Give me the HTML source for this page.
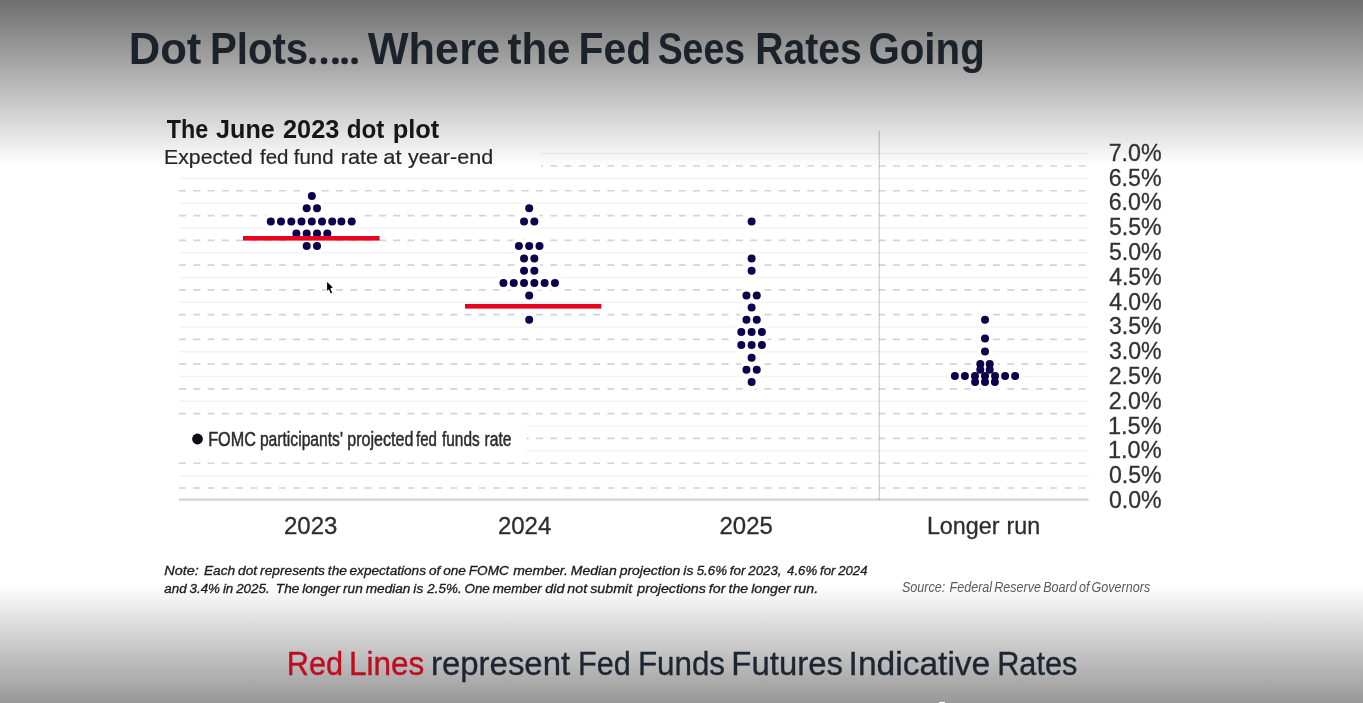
<!DOCTYPE html>
<html>
<head>
<meta charset="utf-8">
<title>Dot Plots</title>
<style>
html, body { margin: 0; padding: 0; }
body {
  width: 1363px; height: 703px; overflow: hidden; position: relative;
  font-family: "Liberation Sans", sans-serif;
  background: #fff;
}
#bg {
  position: absolute; left: 0; top: 0; width: 1363px; height: 703px;
  background:
    linear-gradient(to bottom, #6e6e6e 0px, #ffffff 166px) top / 100% 166px no-repeat,
    linear-gradient(to bottom, #ffffff 0px, #989898 118.5px) bottom / 100% 118.5px no-repeat,
    #fff;
}
svg { position: absolute; left: 0; top: 0; will-change: transform; }
svg text { font-family: "Liberation Sans", sans-serif; }
</style>
</head>
<body>
<div id="bg"></div>
<svg width="1363" height="703" viewBox="0 0 1363 703">
<defs>
<filter id="b1" x="0" y="0" width="100%" height="100%" filterUnits="userSpaceOnUse"><feGaussianBlur stdDeviation="0.6"/></filter>
<filter id="b2" x="0" y="0" width="100%" height="100%" filterUnits="userSpaceOnUse"><feGaussianBlur stdDeviation="0.3"/></filter>
</defs>
<g filter="url(#b1)">
<line x1="179" y1="475.63" x2="1088.5" y2="475.63" stroke="#202020" stroke-opacity="0.05" stroke-width="1.5"/>
<line x1="179" y1="450.86" x2="1088.5" y2="450.86" stroke="#202020" stroke-opacity="0.05" stroke-width="1.5"/>
<line x1="179" y1="426.09" x2="1088.5" y2="426.09" stroke="#202020" stroke-opacity="0.05" stroke-width="1.5"/>
<line x1="179" y1="401.32" x2="1088.5" y2="401.32" stroke="#202020" stroke-opacity="0.05" stroke-width="1.5"/>
<line x1="179" y1="376.55" x2="1088.5" y2="376.55" stroke="#202020" stroke-opacity="0.05" stroke-width="1.5"/>
<line x1="179" y1="351.78" x2="1088.5" y2="351.78" stroke="#202020" stroke-opacity="0.05" stroke-width="1.5"/>
<line x1="179" y1="327.01" x2="1088.5" y2="327.01" stroke="#202020" stroke-opacity="0.05" stroke-width="1.5"/>
<line x1="179" y1="302.24" x2="1088.5" y2="302.24" stroke="#202020" stroke-opacity="0.05" stroke-width="1.5"/>
<line x1="179" y1="277.47" x2="1088.5" y2="277.47" stroke="#202020" stroke-opacity="0.05" stroke-width="1.5"/>
<line x1="179" y1="252.70" x2="1088.5" y2="252.70" stroke="#202020" stroke-opacity="0.05" stroke-width="1.5"/>
<line x1="179" y1="227.93" x2="1088.5" y2="227.93" stroke="#202020" stroke-opacity="0.05" stroke-width="1.5"/>
<line x1="179" y1="203.16" x2="1088.5" y2="203.16" stroke="#202020" stroke-opacity="0.05" stroke-width="1.5"/>
<line x1="179" y1="178.39" x2="1088.5" y2="178.39" stroke="#202020" stroke-opacity="0.05" stroke-width="1.5"/>
<line x1="541" y1="153.62" x2="1088.5" y2="153.62" stroke="#202020" stroke-opacity="0.05" stroke-width="1.5"/>
<line x1="179" y1="488.01" x2="1088.5" y2="488.01" stroke="#d4d4d8" stroke-width="1.7" stroke-dasharray="6.9 7.38" stroke-dashoffset="0.0"/>
<line x1="179" y1="463.25" x2="1088.5" y2="463.25" stroke="#d4d4d8" stroke-width="1.7" stroke-dasharray="6.9 7.38" stroke-dashoffset="0.0"/>
<line x1="179" y1="438.47" x2="1088.5" y2="438.47" stroke="#d4d4d8" stroke-width="1.7" stroke-dasharray="6.9 7.38" stroke-dashoffset="0.0"/>
<line x1="179" y1="413.70" x2="1088.5" y2="413.70" stroke="#d4d4d8" stroke-width="1.7" stroke-dasharray="6.9 7.38" stroke-dashoffset="0.0"/>
<line x1="179" y1="388.93" x2="1088.5" y2="388.93" stroke="#d4d4d8" stroke-width="1.7" stroke-dasharray="6.9 7.38" stroke-dashoffset="0.0"/>
<line x1="179" y1="364.16" x2="1088.5" y2="364.16" stroke="#d4d4d8" stroke-width="1.7" stroke-dasharray="6.9 7.38" stroke-dashoffset="0.0"/>
<line x1="179" y1="339.39" x2="1088.5" y2="339.39" stroke="#d4d4d8" stroke-width="1.7" stroke-dasharray="6.9 7.38" stroke-dashoffset="0.0"/>
<line x1="179" y1="314.62" x2="1088.5" y2="314.62" stroke="#d4d4d8" stroke-width="1.7" stroke-dasharray="6.9 7.38" stroke-dashoffset="0.0"/>
<line x1="179" y1="289.86" x2="1088.5" y2="289.86" stroke="#d4d4d8" stroke-width="1.7" stroke-dasharray="6.9 7.38" stroke-dashoffset="0.0"/>
<line x1="179" y1="265.08" x2="1088.5" y2="265.08" stroke="#d4d4d8" stroke-width="1.7" stroke-dasharray="6.9 7.38" stroke-dashoffset="0.0"/>
<line x1="179" y1="240.31" x2="1088.5" y2="240.31" stroke="#d4d4d8" stroke-width="1.7" stroke-dasharray="6.9 7.38" stroke-dashoffset="0.0"/>
<line x1="179" y1="215.54" x2="1088.5" y2="215.54" stroke="#d4d4d8" stroke-width="1.7" stroke-dasharray="6.9 7.38" stroke-dashoffset="0.0"/>
<line x1="179" y1="190.77" x2="1088.5" y2="190.77" stroke="#d4d4d8" stroke-width="1.7" stroke-dasharray="6.9 7.38" stroke-dashoffset="0.0"/>
<line x1="541" y1="166.00" x2="1088.5" y2="166.00" stroke="#d4d4d8" stroke-width="1.7" stroke-dasharray="6.9 7.38" stroke-dashoffset="5.0"/>
<rect x="176" y="421" width="350.5" height="32" fill="#fff"/>
<circle cx="311.85" cy="195.90" r="8.0" fill="#fff"/>
<circle cx="306.70" cy="208.20" r="8.0" fill="#fff"/>
<circle cx="317.00" cy="208.20" r="8.0" fill="#fff"/>
<circle cx="296.40" cy="233.50" r="8.0" fill="#fff"/>
<circle cx="306.70" cy="233.50" r="8.0" fill="#fff"/>
<circle cx="317.00" cy="233.50" r="8.0" fill="#fff"/>
<circle cx="327.30" cy="233.50" r="8.0" fill="#fff"/>
<circle cx="306.70" cy="246.10" r="8.0" fill="#fff"/>
<circle cx="317.00" cy="246.10" r="8.0" fill="#fff"/>
<circle cx="270.80" cy="221.50" r="8.0" fill="#fff"/>
<circle cx="281.00" cy="221.50" r="8.0" fill="#fff"/>
<circle cx="291.30" cy="221.50" r="8.0" fill="#fff"/>
<circle cx="301.50" cy="221.50" r="8.0" fill="#fff"/>
<circle cx="311.75" cy="221.50" r="8.0" fill="#fff"/>
<circle cx="322.00" cy="221.50" r="8.0" fill="#fff"/>
<circle cx="332.20" cy="221.50" r="8.0" fill="#fff"/>
<circle cx="341.40" cy="221.50" r="8.0" fill="#fff"/>
<circle cx="351.70" cy="221.50" r="8.0" fill="#fff"/>
<circle cx="529.20" cy="208.20" r="8.0" fill="#fff"/>
<circle cx="524.05" cy="221.50" r="8.0" fill="#fff"/>
<circle cx="534.35" cy="221.50" r="8.0" fill="#fff"/>
<circle cx="518.90" cy="246.10" r="8.0" fill="#fff"/>
<circle cx="529.20" cy="246.10" r="8.0" fill="#fff"/>
<circle cx="539.50" cy="246.10" r="8.0" fill="#fff"/>
<circle cx="524.05" cy="258.60" r="8.0" fill="#fff"/>
<circle cx="534.35" cy="258.60" r="8.0" fill="#fff"/>
<circle cx="524.05" cy="270.70" r="8.0" fill="#fff"/>
<circle cx="534.35" cy="270.70" r="8.0" fill="#fff"/>
<circle cx="503.45" cy="283.10" r="8.0" fill="#fff"/>
<circle cx="513.75" cy="283.10" r="8.0" fill="#fff"/>
<circle cx="524.05" cy="283.10" r="8.0" fill="#fff"/>
<circle cx="534.35" cy="283.10" r="8.0" fill="#fff"/>
<circle cx="544.65" cy="283.10" r="8.0" fill="#fff"/>
<circle cx="554.95" cy="283.10" r="8.0" fill="#fff"/>
<circle cx="529.20" cy="295.40" r="8.0" fill="#fff"/>
<circle cx="529.20" cy="319.65" r="8.0" fill="#fff"/>
<circle cx="751.60" cy="221.50" r="8.0" fill="#fff"/>
<circle cx="751.60" cy="258.60" r="8.0" fill="#fff"/>
<circle cx="751.60" cy="270.70" r="8.0" fill="#fff"/>
<circle cx="746.45" cy="295.40" r="8.0" fill="#fff"/>
<circle cx="756.75" cy="295.40" r="8.0" fill="#fff"/>
<circle cx="751.60" cy="307.60" r="8.0" fill="#fff"/>
<circle cx="746.45" cy="319.65" r="8.0" fill="#fff"/>
<circle cx="756.75" cy="319.65" r="8.0" fill="#fff"/>
<circle cx="741.30" cy="332.10" r="8.0" fill="#fff"/>
<circle cx="751.60" cy="332.10" r="8.0" fill="#fff"/>
<circle cx="761.90" cy="332.10" r="8.0" fill="#fff"/>
<circle cx="741.30" cy="345.10" r="8.0" fill="#fff"/>
<circle cx="751.60" cy="345.10" r="8.0" fill="#fff"/>
<circle cx="761.90" cy="345.10" r="8.0" fill="#fff"/>
<circle cx="751.60" cy="357.70" r="8.0" fill="#fff"/>
<circle cx="746.45" cy="369.80" r="8.0" fill="#fff"/>
<circle cx="756.75" cy="369.80" r="8.0" fill="#fff"/>
<circle cx="751.60" cy="382.10" r="8.0" fill="#fff"/>
<circle cx="985.00" cy="319.65" r="8.0" fill="#fff"/>
<circle cx="985.00" cy="338.40" r="8.0" fill="#fff"/>
<circle cx="985.00" cy="351.60" r="8.0" fill="#fff"/>
<circle cx="980.30" cy="363.90" r="8.0" fill="#fff"/>
<circle cx="989.70" cy="363.90" r="8.0" fill="#fff"/>
<circle cx="980.30" cy="369.80" r="8.0" fill="#fff"/>
<circle cx="989.70" cy="369.80" r="8.0" fill="#fff"/>
<circle cx="954.85" cy="376.10" r="8.0" fill="#fff"/>
<circle cx="964.90" cy="376.10" r="8.0" fill="#fff"/>
<circle cx="974.95" cy="376.10" r="8.0" fill="#fff"/>
<circle cx="985.00" cy="376.10" r="8.0" fill="#fff"/>
<circle cx="995.05" cy="376.10" r="8.0" fill="#fff"/>
<circle cx="1005.10" cy="376.10" r="8.0" fill="#fff"/>
<circle cx="1015.15" cy="376.10" r="8.0" fill="#fff"/>
<circle cx="975.10" cy="382.10" r="8.0" fill="#fff"/>
<circle cx="985.00" cy="382.10" r="8.0" fill="#fff"/>
<circle cx="994.90" cy="382.10" r="8.0" fill="#fff"/>
<line x1="179" y1="499.7" x2="1088.5" y2="499.7" stroke="#d3d3d4" stroke-width="2.2"/>
<line x1="879.3" y1="130.8" x2="879.3" y2="500" stroke="#1a1a24" stroke-opacity="0.19" stroke-width="1.3"/>
<circle cx="311.85" cy="195.90" r="4.0" fill="#0b004e"/>
<circle cx="306.70" cy="208.20" r="4.0" fill="#0b004e"/>
<circle cx="317.00" cy="208.20" r="4.0" fill="#0b004e"/>
<circle cx="296.40" cy="233.50" r="4.0" fill="#0b004e"/>
<circle cx="306.70" cy="233.50" r="4.0" fill="#0b004e"/>
<circle cx="317.00" cy="233.50" r="4.0" fill="#0b004e"/>
<circle cx="327.30" cy="233.50" r="4.0" fill="#0b004e"/>
<circle cx="306.70" cy="246.10" r="4.0" fill="#0b004e"/>
<circle cx="317.00" cy="246.10" r="4.0" fill="#0b004e"/>
<circle cx="270.80" cy="221.50" r="4.0" fill="#0b004e"/>
<circle cx="281.00" cy="221.50" r="4.0" fill="#0b004e"/>
<circle cx="291.30" cy="221.50" r="4.0" fill="#0b004e"/>
<circle cx="301.50" cy="221.50" r="4.0" fill="#0b004e"/>
<circle cx="311.75" cy="221.50" r="4.0" fill="#0b004e"/>
<circle cx="322.00" cy="221.50" r="4.0" fill="#0b004e"/>
<circle cx="332.20" cy="221.50" r="4.0" fill="#0b004e"/>
<circle cx="341.40" cy="221.50" r="4.0" fill="#0b004e"/>
<circle cx="351.70" cy="221.50" r="4.0" fill="#0b004e"/>
<circle cx="529.20" cy="208.20" r="4.0" fill="#0b004e"/>
<circle cx="524.05" cy="221.50" r="4.0" fill="#0b004e"/>
<circle cx="534.35" cy="221.50" r="4.0" fill="#0b004e"/>
<circle cx="518.90" cy="246.10" r="4.0" fill="#0b004e"/>
<circle cx="529.20" cy="246.10" r="4.0" fill="#0b004e"/>
<circle cx="539.50" cy="246.10" r="4.0" fill="#0b004e"/>
<circle cx="524.05" cy="258.60" r="4.0" fill="#0b004e"/>
<circle cx="534.35" cy="258.60" r="4.0" fill="#0b004e"/>
<circle cx="524.05" cy="270.70" r="4.0" fill="#0b004e"/>
<circle cx="534.35" cy="270.70" r="4.0" fill="#0b004e"/>
<circle cx="503.45" cy="283.10" r="4.0" fill="#0b004e"/>
<circle cx="513.75" cy="283.10" r="4.0" fill="#0b004e"/>
<circle cx="524.05" cy="283.10" r="4.0" fill="#0b004e"/>
<circle cx="534.35" cy="283.10" r="4.0" fill="#0b004e"/>
<circle cx="544.65" cy="283.10" r="4.0" fill="#0b004e"/>
<circle cx="554.95" cy="283.10" r="4.0" fill="#0b004e"/>
<circle cx="529.20" cy="295.40" r="4.0" fill="#0b004e"/>
<circle cx="529.20" cy="319.65" r="4.0" fill="#0b004e"/>
<circle cx="751.60" cy="221.50" r="4.0" fill="#0b004e"/>
<circle cx="751.60" cy="258.60" r="4.0" fill="#0b004e"/>
<circle cx="751.60" cy="270.70" r="4.0" fill="#0b004e"/>
<circle cx="746.45" cy="295.40" r="4.0" fill="#0b004e"/>
<circle cx="756.75" cy="295.40" r="4.0" fill="#0b004e"/>
<circle cx="751.60" cy="307.60" r="4.0" fill="#0b004e"/>
<circle cx="746.45" cy="319.65" r="4.0" fill="#0b004e"/>
<circle cx="756.75" cy="319.65" r="4.0" fill="#0b004e"/>
<circle cx="741.30" cy="332.10" r="4.0" fill="#0b004e"/>
<circle cx="751.60" cy="332.10" r="4.0" fill="#0b004e"/>
<circle cx="761.90" cy="332.10" r="4.0" fill="#0b004e"/>
<circle cx="741.30" cy="345.10" r="4.0" fill="#0b004e"/>
<circle cx="751.60" cy="345.10" r="4.0" fill="#0b004e"/>
<circle cx="761.90" cy="345.10" r="4.0" fill="#0b004e"/>
<circle cx="751.60" cy="357.70" r="4.0" fill="#0b004e"/>
<circle cx="746.45" cy="369.80" r="4.0" fill="#0b004e"/>
<circle cx="756.75" cy="369.80" r="4.0" fill="#0b004e"/>
<circle cx="751.60" cy="382.10" r="4.0" fill="#0b004e"/>
<circle cx="985.00" cy="319.65" r="4.0" fill="#0b004e"/>
<circle cx="985.00" cy="338.40" r="4.0" fill="#0b004e"/>
<circle cx="985.00" cy="351.60" r="4.0" fill="#0b004e"/>
<circle cx="980.30" cy="363.90" r="4.0" fill="#0b004e"/>
<circle cx="989.70" cy="363.90" r="4.0" fill="#0b004e"/>
<circle cx="980.30" cy="369.80" r="4.0" fill="#0b004e"/>
<circle cx="989.70" cy="369.80" r="4.0" fill="#0b004e"/>
<circle cx="954.85" cy="376.10" r="4.0" fill="#0b004e"/>
<circle cx="964.90" cy="376.10" r="4.0" fill="#0b004e"/>
<circle cx="974.95" cy="376.10" r="4.0" fill="#0b004e"/>
<circle cx="985.00" cy="376.10" r="4.0" fill="#0b004e"/>
<circle cx="995.05" cy="376.10" r="4.0" fill="#0b004e"/>
<circle cx="1005.10" cy="376.10" r="4.0" fill="#0b004e"/>
<circle cx="1015.15" cy="376.10" r="4.0" fill="#0b004e"/>
<circle cx="975.10" cy="382.10" r="4.0" fill="#0b004e"/>
<circle cx="985.00" cy="382.10" r="4.0" fill="#0b004e"/>
<circle cx="994.90" cy="382.10" r="4.0" fill="#0b004e"/>
<rect x="243" y="236" width="136.5" height="4.6" fill="#ea001c"/>
<rect x="465" y="304.0" width="136.3" height="4.6" fill="#ea001c"/>
<circle cx="197.5" cy="439.0" r="5.4" fill="#0e0e12"/>
<text x="166.87" y="138.20" font-size="25" font-weight="bold" font-style="normal" fill="#151515" textLength="41.42" lengthAdjust="spacingAndGlyphs" xml:space="preserve">The</text>
<text x="216.10" y="138.20" font-size="25" font-weight="bold" font-style="normal" fill="#151515" textLength="58.67" lengthAdjust="spacingAndGlyphs" xml:space="preserve">June</text>
<text x="283.04" y="138.20" font-size="25" font-weight="bold" font-style="normal" fill="#151515" textLength="56.24" lengthAdjust="spacingAndGlyphs" xml:space="preserve">2023</text>
<text x="346.63" y="138.20" font-size="25" font-weight="bold" font-style="normal" fill="#151515" textLength="37.63" lengthAdjust="spacingAndGlyphs" xml:space="preserve">dot</text>
<text x="392.72" y="138.20" font-size="25" font-weight="bold" font-style="normal" fill="#151515" textLength="46.61" lengthAdjust="spacingAndGlyphs" xml:space="preserve">plot</text>
<text x="164.02" y="163.50" font-size="20.2" font-weight="normal" font-style="normal" fill="#262626" stroke="#262626" stroke-width="0.2" textLength="88.61" lengthAdjust="spacingAndGlyphs" xml:space="preserve">Expected</text>
<text x="259.95" y="163.50" font-size="20.2" font-weight="normal" font-style="normal" fill="#262626" stroke="#262626" stroke-width="0.2" textLength="28.50" lengthAdjust="spacingAndGlyphs" xml:space="preserve">fed</text>
<text x="293.85" y="163.50" font-size="20.2" font-weight="normal" font-style="normal" fill="#262626" stroke="#262626" stroke-width="0.2" textLength="39.66" lengthAdjust="spacingAndGlyphs" xml:space="preserve">fund</text>
<text x="340.76" y="163.50" font-size="20.2" font-weight="normal" font-style="normal" fill="#262626" stroke="#262626" stroke-width="0.2" textLength="37.40" lengthAdjust="spacingAndGlyphs" xml:space="preserve">rate</text>
<text x="383.29" y="163.50" font-size="20.2" font-weight="normal" font-style="normal" fill="#262626" stroke="#262626" stroke-width="0.2" textLength="18.21" lengthAdjust="spacingAndGlyphs" xml:space="preserve">at</text>
<text x="408.00" y="163.50" font-size="20.2" font-weight="normal" font-style="normal" fill="#262626" stroke="#262626" stroke-width="0.2" textLength="85.17" lengthAdjust="spacingAndGlyphs" xml:space="preserve">year-end</text>
<text x="1108.64" y="160.75" font-size="24.3" font-weight="normal" font-style="normal" fill="#333333" stroke="#333333" stroke-width="0.3" textLength="52.97" lengthAdjust="spacingAndGlyphs" xml:space="preserve">7.0%</text>
<text x="1108.64" y="185.55" font-size="24.3" font-weight="normal" font-style="normal" fill="#333333" stroke="#333333" stroke-width="0.3" textLength="52.97" lengthAdjust="spacingAndGlyphs" xml:space="preserve">6.5%</text>
<text x="1108.64" y="210.34" font-size="24.3" font-weight="normal" font-style="normal" fill="#333333" stroke="#333333" stroke-width="0.3" textLength="52.97" lengthAdjust="spacingAndGlyphs" xml:space="preserve">6.0%</text>
<text x="1108.89" y="235.13" font-size="24.3" font-weight="normal" font-style="normal" fill="#333333" stroke="#333333" stroke-width="0.3" textLength="52.72" lengthAdjust="spacingAndGlyphs" xml:space="preserve">5.5%</text>
<text x="1108.89" y="259.93" font-size="24.3" font-weight="normal" font-style="normal" fill="#333333" stroke="#333333" stroke-width="0.3" textLength="52.72" lengthAdjust="spacingAndGlyphs" xml:space="preserve">5.0%</text>
<text x="1109.13" y="284.73" font-size="24.3" font-weight="normal" font-style="normal" fill="#333333" stroke="#333333" stroke-width="0.3" textLength="52.48" lengthAdjust="spacingAndGlyphs" xml:space="preserve">4.5%</text>
<text x="1109.13" y="309.52" font-size="24.3" font-weight="normal" font-style="normal" fill="#333333" stroke="#333333" stroke-width="0.3" textLength="52.48" lengthAdjust="spacingAndGlyphs" xml:space="preserve">4.0%</text>
<text x="1108.89" y="334.31" font-size="24.3" font-weight="normal" font-style="normal" fill="#333333" stroke="#333333" stroke-width="0.3" textLength="52.72" lengthAdjust="spacingAndGlyphs" xml:space="preserve">3.5%</text>
<text x="1108.89" y="359.11" font-size="24.3" font-weight="normal" font-style="normal" fill="#333333" stroke="#333333" stroke-width="0.3" textLength="52.72" lengthAdjust="spacingAndGlyphs" xml:space="preserve">3.0%</text>
<text x="1108.64" y="383.91" font-size="24.3" font-weight="normal" font-style="normal" fill="#333333" stroke="#333333" stroke-width="0.3" textLength="52.97" lengthAdjust="spacingAndGlyphs" xml:space="preserve">2.5%</text>
<text x="1108.64" y="408.70" font-size="24.3" font-weight="normal" font-style="normal" fill="#333333" stroke="#333333" stroke-width="0.3" textLength="52.97" lengthAdjust="spacingAndGlyphs" xml:space="preserve">2.0%</text>
<text x="1107.90" y="433.50" font-size="24.3" font-weight="normal" font-style="normal" fill="#333333" stroke="#333333" stroke-width="0.3" textLength="53.72" lengthAdjust="spacingAndGlyphs" xml:space="preserve">1.5%</text>
<text x="1107.90" y="458.29" font-size="24.3" font-weight="normal" font-style="normal" fill="#333333" stroke="#333333" stroke-width="0.3" textLength="53.72" lengthAdjust="spacingAndGlyphs" xml:space="preserve">1.0%</text>
<text x="1108.89" y="483.09" font-size="24.3" font-weight="normal" font-style="normal" fill="#333333" stroke="#333333" stroke-width="0.3" textLength="52.72" lengthAdjust="spacingAndGlyphs" xml:space="preserve">0.5%</text>
<text x="1108.89" y="507.88" font-size="24.3" font-weight="normal" font-style="normal" fill="#333333" stroke="#333333" stroke-width="0.3" textLength="52.72" lengthAdjust="spacingAndGlyphs" xml:space="preserve">0.0%</text>
<text x="284.00" y="533.70" font-size="24.0" font-weight="normal" font-style="normal" fill="#2d2d2d" stroke="#2d2d2d" stroke-width="0.3" textLength="53.39" lengthAdjust="spacingAndGlyphs" xml:space="preserve">2023</text>
<text x="497.90" y="533.70" font-size="24.0" font-weight="normal" font-style="normal" fill="#2d2d2d" stroke="#2d2d2d" stroke-width="0.3" textLength="53.44" lengthAdjust="spacingAndGlyphs" xml:space="preserve">2024</text>
<text x="719.50" y="533.70" font-size="24.0" font-weight="normal" font-style="normal" fill="#2d2d2d" stroke="#2d2d2d" stroke-width="0.3" textLength="53.29" lengthAdjust="spacingAndGlyphs" xml:space="preserve">2025</text>
<text x="926.90" y="533.70" font-size="24.0" font-weight="normal" font-style="normal" fill="#2d2d2d" stroke="#2d2d2d" stroke-width="0.3" textLength="72.53" lengthAdjust="spacingAndGlyphs" xml:space="preserve">Longer</text>
<text x="1006.54" y="533.70" font-size="24.0" font-weight="normal" font-style="normal" fill="#2d2d2d" stroke="#2d2d2d" stroke-width="0.3" textLength="33.65" lengthAdjust="spacingAndGlyphs" xml:space="preserve">run</text>
<text x="208.18" y="445.70" font-size="19.9" font-weight="normal" font-style="normal" fill="#2c2c2c" stroke="#2c2c2c" stroke-width="0.5" textLength="47.68" lengthAdjust="spacingAndGlyphs" xml:space="preserve">FOMC</text>
<text x="259.91" y="445.70" font-size="19.9" font-weight="normal" font-style="normal" fill="#2c2c2c" stroke="#2c2c2c" stroke-width="0.5" textLength="82.99" lengthAdjust="spacingAndGlyphs" xml:space="preserve">participants'</text>
<text x="347.29" y="445.70" font-size="19.9" font-weight="normal" font-style="normal" fill="#2c2c2c" stroke="#2c2c2c" stroke-width="0.5" textLength="66.18" lengthAdjust="spacingAndGlyphs" xml:space="preserve">projected</text>
<text x="416.00" y="445.70" font-size="19.9" font-weight="normal" font-style="normal" fill="#2c2c2c" stroke="#2c2c2c" stroke-width="0.5" textLength="20.98" lengthAdjust="spacingAndGlyphs" xml:space="preserve">fed</text>
<text x="442.00" y="445.70" font-size="19.9" font-weight="normal" font-style="normal" fill="#2c2c2c" stroke="#2c2c2c" stroke-width="0.5" textLength="37.73" lengthAdjust="spacingAndGlyphs" xml:space="preserve">funds</text>
<text x="484.51" y="445.70" font-size="19.9" font-weight="normal" font-style="normal" fill="#2c2c2c" stroke="#2c2c2c" stroke-width="0.5" textLength="27.00" lengthAdjust="spacingAndGlyphs" xml:space="preserve">rate</text>
<text x="164.31" y="574.50" font-size="12.4" font-weight="normal" font-style="italic" fill="#202020" stroke="#202020" stroke-width="0.3" word-spacing="-0.8" textLength="34.43" lengthAdjust="spacingAndGlyphs" xml:space="preserve">Note:</text>
<text x="203.92" y="574.50" font-size="12.4" font-weight="normal" font-style="italic" fill="#202020" stroke="#202020" stroke-width="0.3" word-spacing="-0.8" textLength="143.04" lengthAdjust="spacingAndGlyphs" xml:space="preserve">Each dot represents the</text>
<text x="349.53" y="574.50" font-size="12.4" font-weight="normal" font-style="italic" fill="#202020" stroke="#202020" stroke-width="0.3" word-spacing="-0.8" textLength="159.38" lengthAdjust="spacingAndGlyphs" xml:space="preserve">expectations of one FOMC</text>
<text x="513.20" y="574.50" font-size="12.4" font-weight="normal" font-style="italic" fill="#202020" stroke="#202020" stroke-width="0.3" word-spacing="-0.8" textLength="180.19" lengthAdjust="spacingAndGlyphs" xml:space="preserve">member. Median projection is</text>
<text x="696.73" y="574.50" font-size="12.4" font-weight="normal" font-style="italic" fill="#202020" stroke="#202020" stroke-width="0.3" word-spacing="-0.8" textLength="84.81" lengthAdjust="spacingAndGlyphs" xml:space="preserve">5.6% for 2023,</text>
<text x="787.10" y="574.50" font-size="12.4" font-weight="normal" font-style="italic" fill="#202020" stroke="#202020" stroke-width="0.3" word-spacing="-0.8" textLength="80.43" lengthAdjust="spacingAndGlyphs" xml:space="preserve">4.6% for 2024</text>
<text x="164.33" y="592.50" font-size="12.4" font-weight="normal" font-style="italic" fill="#202020" stroke="#202020" stroke-width="0.3" word-spacing="-0.8" textLength="105.32" lengthAdjust="spacingAndGlyphs" xml:space="preserve">and 3.4% in 2025.</text>
<text x="275.80" y="592.50" font-size="12.4" font-weight="normal" font-style="italic" fill="#202020" stroke="#202020" stroke-width="0.3" word-spacing="-0.8" textLength="147.44" lengthAdjust="spacingAndGlyphs" xml:space="preserve">The longer run median is</text>
<text x="427.37" y="592.50" font-size="12.4" font-weight="normal" font-style="italic" fill="#202020" stroke="#202020" stroke-width="0.3" word-spacing="-0.8" textLength="114.49" lengthAdjust="spacingAndGlyphs" xml:space="preserve">2.5%. One member</text>
<text x="545.31" y="592.50" font-size="12.4" font-weight="normal" font-style="italic" fill="#202020" stroke="#202020" stroke-width="0.3" word-spacing="-0.8" textLength="86.87" lengthAdjust="spacingAndGlyphs" xml:space="preserve">did not submit</text>
<text x="637.27" y="592.50" font-size="12.4" font-weight="normal" font-style="italic" fill="#202020" stroke="#202020" stroke-width="0.3" word-spacing="-0.8" textLength="180.83" lengthAdjust="spacingAndGlyphs" xml:space="preserve">projections for the longer run.</text>
<text x="901.90" y="591.70" font-size="15.5" font-weight="normal" font-style="italic" fill="#5a5a5a" word-spacing="-1.6" textLength="248.27" lengthAdjust="spacingAndGlyphs" xml:space="preserve">Source:  Federal Reserve Board of Governors</text>
</g>
<g filter="url(#b2)">
<text x="128.69" y="63.90" font-size="45" font-weight="bold" font-style="normal" fill="#1d222b" textLength="72.68" lengthAdjust="spacingAndGlyphs" xml:space="preserve">Dot</text>
<text x="209.92" y="63.90" font-size="45" font-weight="bold" font-style="normal" fill="#1d222b" textLength="98.27" lengthAdjust="spacingAndGlyphs" xml:space="preserve">Plots</text>
<text x="367.70" y="63.90" font-size="45" font-weight="bold" font-style="normal" fill="#1d222b" textLength="132.47" lengthAdjust="spacingAndGlyphs" xml:space="preserve">Where</text>
<text x="507.43" y="63.90" font-size="45" font-weight="bold" font-style="normal" fill="#1d222b" textLength="63.07" lengthAdjust="spacingAndGlyphs" xml:space="preserve">the</text>
<text x="578.48" y="63.90" font-size="45" font-weight="bold" font-style="normal" fill="#1d222b" textLength="72.66" lengthAdjust="spacingAndGlyphs" xml:space="preserve">Fed</text>
<text x="657.66" y="63.90" font-size="45" font-weight="bold" font-style="normal" fill="#1d222b" textLength="87.39" lengthAdjust="spacingAndGlyphs" xml:space="preserve">Sees</text>
<text x="755.19" y="63.90" font-size="45" font-weight="bold" font-style="normal" fill="#1d222b" textLength="106.49" lengthAdjust="spacingAndGlyphs" xml:space="preserve">Rates</text>
<text x="868.43" y="63.90" font-size="45" font-weight="bold" font-style="normal" fill="#1d222b" textLength="116.32" lengthAdjust="spacingAndGlyphs" xml:space="preserve">Going</text>
<text x="286.86" y="674.50" font-size="32.7" font-weight="normal" font-style="normal" fill="#bf0a1e" stroke="#bf0a1e" stroke-width="0.35" textLength="56.19" lengthAdjust="spacingAndGlyphs" xml:space="preserve">Red</text>
<text x="349.09" y="674.50" font-size="32.7" font-weight="normal" font-style="normal" fill="#bf0a1e" stroke="#bf0a1e" stroke-width="0.35" textLength="75.28" lengthAdjust="spacingAndGlyphs" xml:space="preserve">Lines</text>
<text x="430.98" y="674.50" font-size="32.7" font-weight="normal" font-style="normal" fill="#1f2630" stroke="#1f2630" stroke-width="0.35" textLength="139.21" lengthAdjust="spacingAndGlyphs" xml:space="preserve">represent</text>
<text x="577.96" y="674.50" font-size="32.7" font-weight="normal" font-style="normal" fill="#1f2630" stroke="#1f2630" stroke-width="0.35" textLength="52.68" lengthAdjust="spacingAndGlyphs" xml:space="preserve">Fed</text>
<text x="637.90" y="674.50" font-size="32.7" font-weight="normal" font-style="normal" fill="#1f2630" stroke="#1f2630" stroke-width="0.35" textLength="87.16" lengthAdjust="spacingAndGlyphs" xml:space="preserve">Funds</text>
<text x="731.38" y="674.50" font-size="32.7" font-weight="normal" font-style="normal" fill="#1f2630" stroke="#1f2630" stroke-width="0.35" textLength="111.50" lengthAdjust="spacingAndGlyphs" xml:space="preserve">Futures</text>
<text x="848.58" y="674.50" font-size="32.7" font-weight="normal" font-style="normal" fill="#1f2630" stroke="#1f2630" stroke-width="0.35" textLength="141.70" lengthAdjust="spacingAndGlyphs" xml:space="preserve">Indicative</text>
<text x="997.15" y="674.50" font-size="32.7" font-weight="normal" font-style="normal" fill="#1f2630" stroke="#1f2630" stroke-width="0.35" textLength="80.18" lengthAdjust="spacingAndGlyphs" xml:space="preserve">Rates</text>
<circle cx="312.5" cy="60.9" r="3.3" fill="#1d222b"/>
<circle cx="324.05" cy="60.9" r="3.3" fill="#1d222b"/>
<circle cx="335.4" cy="60.9" r="3.3" fill="#1d222b"/>
<circle cx="344.6" cy="60.9" r="3.3" fill="#1d222b"/>
<circle cx="354.6" cy="60.9" r="3.3" fill="#1d222b"/>
<path d="M327.1 281.9 L327.1 290.7 L328.9 289.3 L330.7 293.4 L332.1 292.8 L330.3 288.6 L332.8 287.6 Z" fill="#fff" stroke="#fff" stroke-width="2" stroke-linejoin="round"/>
<path d="M327.1 281.9 L327.1 290.7 L328.9 289.3 L330.7 293.4 L332.1 292.8 L330.3 288.6 L332.8 287.6 Z" fill="#000"/>
<rect x="938.2" y="700.9" width="7.7" height="2.4" rx="0.6" fill="#000" fill-opacity="0.12"/>
<rect x="938.9" y="701.7" width="6.3" height="1.6" rx="0.4" fill="#fff"/>
</g>
</svg>
</body>
</html>
